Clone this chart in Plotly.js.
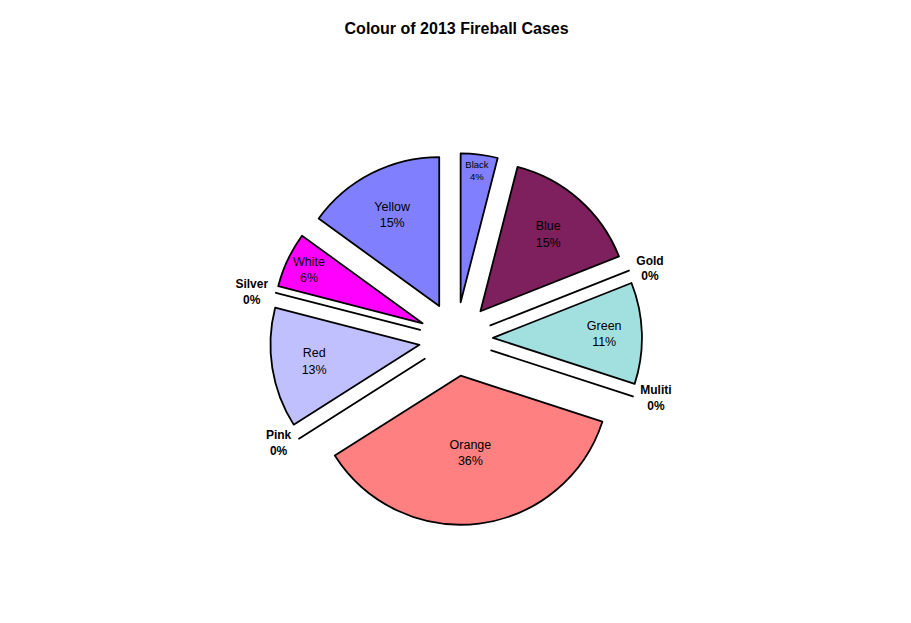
<!DOCTYPE html>
<html>
<head>
<meta charset="utf-8">
<script src="https://cdn.plot.ly/plotly-3.0.1.min.js"></script>
<style>html,body{margin:0;padding:0;background:#fff;}</style>
</head>
<body>
<div id="chart" style="width:911px;height:623px;"></div>
<script>
const categories = ["Black", "Blue", "Gold", "Green", "Muliti", "Orange", "Pink", "Red", "Silver", "White", "Yellow"];
const shares = [4, 15, 0, 11, 0, 36, 0, 13, 0, 6, 15];
const sliceColors = ["#8080FF", "#7E1F5E", "#FFFFFF", "#A2DFDF", "#FFFFFF", "#FF8080", "#FFFFFF", "#C0C0FF", "#FFFFFF", "#FF00FF", "#8080FF"];
const titleText = "Colour of 2013 Fireball Cases";

// zero-valued categories are drawn as a hairline slice so they remain visible, as in the original
const drawnValues = shares.map(v => v === 0 ? 1e-6 : v);
const positions = shares.map(v => v === 0 ? "outside" : "inside");

const trace = {
  type: "pie",
  labels: categories,
  values: drawnValues,
  sort: false,
  direction: "clockwise",
  rotation: 0,
  pull: 0.248,
  textposition: positions,
  texttemplate: "%{label}<br>%{percent:.0%}",
  insidetextorientation: "horizontal",
  insidetextfont: {family: "Liberation Sans, Arial, sans-serif", size: 12.5, color: "#000"},
  outsidetextfont: {family: "Liberation Sans, Arial, sans-serif", size: 12, color: "#000", weight: "bold"},
  marker: {colors: sliceColors, line: {color: "#000", width: 1.8}},
  domain: {x: [0.2964, 0.7047], y: [0.1573, 0.7544]},
  showlegend: false,
  hoverinfo: "label+percent"
};

const layout = {
  width: 911,
  height: 623,
  margin: {l: 0, r: 0, t: 0, b: 0},
  paper_bgcolor: "#fff",
  plot_bgcolor: "#fff",
  showlegend: false,
  title: {
    text: titleText,
    x: 0.5012, xanchor: "center",
    y: 1 - 28 / 623, yanchor: "middle", yref: "container",
    font: {family: "Liberation Sans, Arial, sans-serif", size: 16, color: "#000", weight: "bold"}
  }
};

Plotly.newPlot("chart", [trace], layout, {displayModeBar: false, staticPlot: true});
</script>
</body>
</html>
